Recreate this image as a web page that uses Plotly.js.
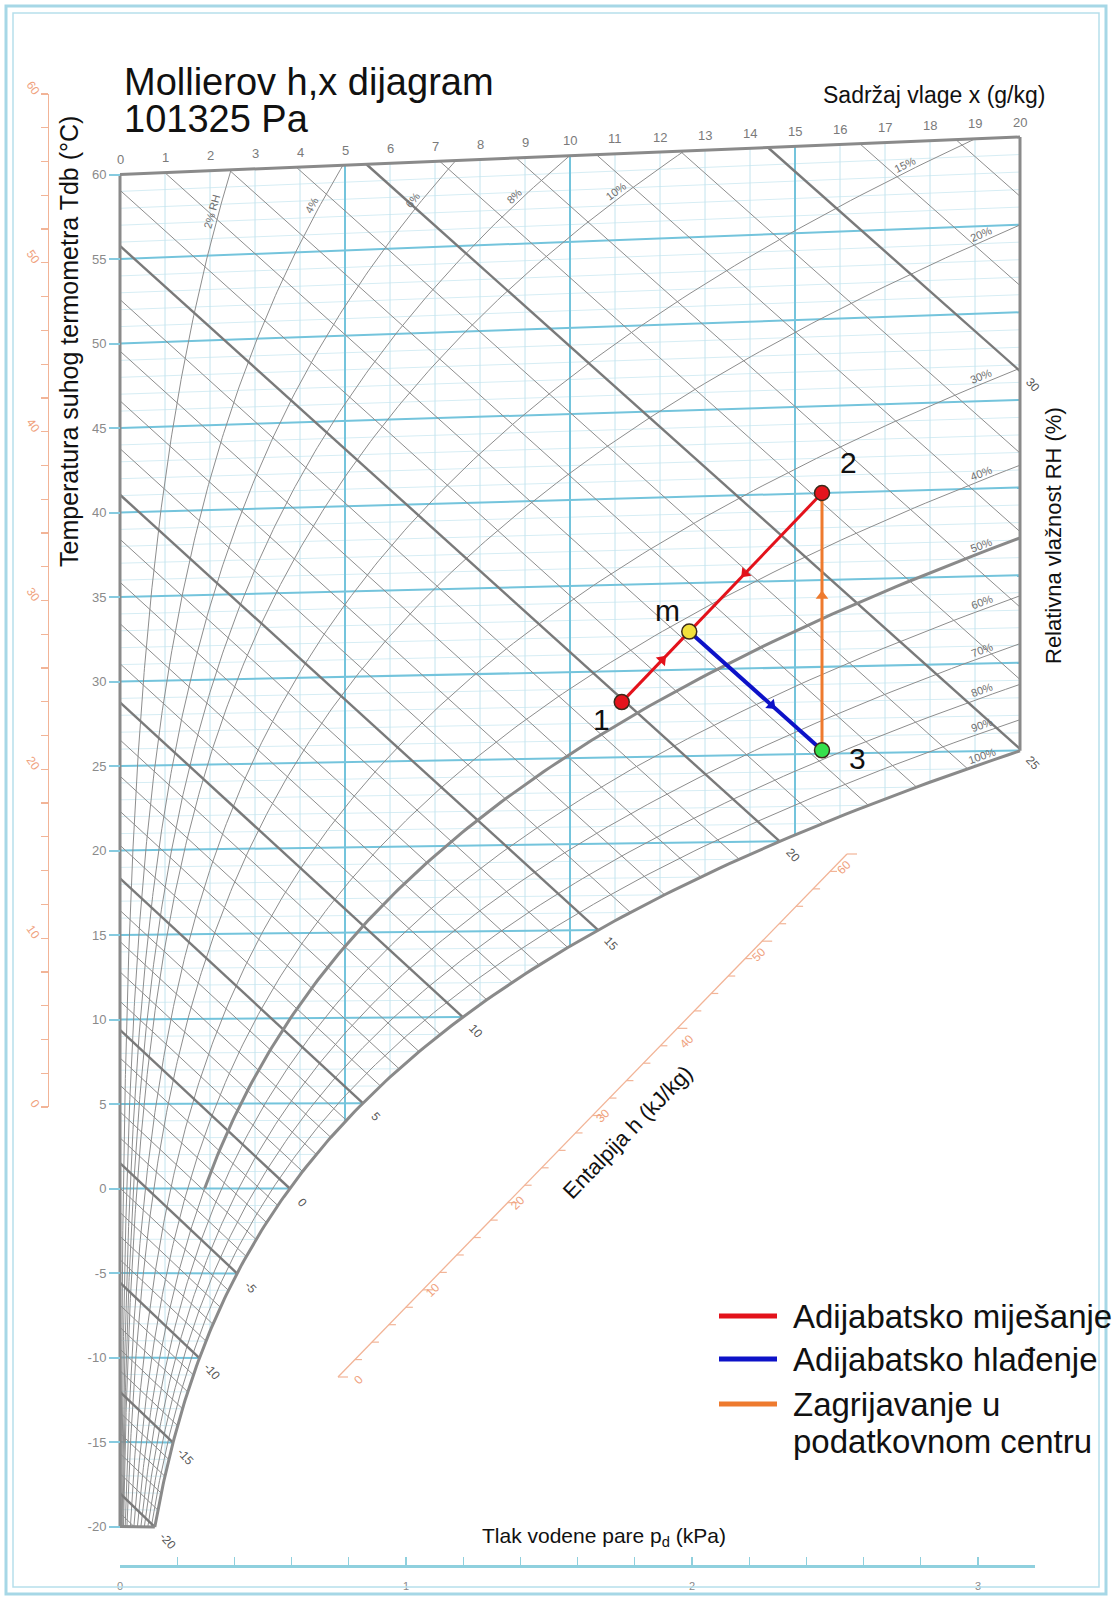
<!DOCTYPE html>
<html>
<head>
<meta charset="utf-8">
<script src="https://cdn.plot.ly/plotly-3.0.1.min.js"></script>
<style>
html,body{margin:0;padding:0;background:#ffffff;}
#chart{width:1112px;height:1600px;}
</style>
</head>
<body>
<div id="chart"></div>
<script>
// ===================== DATA =====================
const isothermValues = [-20,-19,-18,-17,-16,-15,-14,-13,-12,-11,-10,-9,-8,-7,-6,-5,-4,-3,-2,-1,0,1,2,3,4,5,6,7,8,9,10,11,12,13,14,15,16,17,18,19,20,21,22,23,24,25,26,27,28,29,30,31,32,33,34,35,36,37,38,39,40,41,42,43,44,45,46,47,48,49,50,51,52,53,54,55,56,57,58,59,60];
const tempTicks = [-20,-15,-10,-5,0,5,10,15,20,25,30,35,40,45,50,55,60];
const moistureValues = [0,1,2,3,4,5,6,7,8,9,10,11,12,13,14,15,16,17,18,19,20];
const rhLevels = [2,4,6,8,10,15,20,30,40,50,60,70,80,90,100];
const rhLabels = ['2% RH','4%','6%','8%','10%','15%','20%','30%','40%','50%','60%','70%','80%','90%','100%'];
const wetBulbValues = [-22,-21,-20,-19,-18,-17,-16,-15,-14,-13,-12,-11,-10,-9,-8,-7,-6,-5,-4,-3,-2,-1,0,1,2,3,4,5,6,7,8,9,10,11,12,13,14,15,16,17,18,19,20,21,22,23,24,25,26,27,28,29,30,31,32];
const wetBulbLabelled = [-20,-15,-10,-5,0,5,10,15,20,25,30];
const pressureTicks = [0,0.2,0.4,0.6,0.8,1,1.2,1.4,1.6,1.8,2,2.2,2.4,2.6,2.8,3,3.2];
const pressureLabels = ['0','','','','','1','','','','','2','','','','','3',''];
const enthalpyTicks = [0,2,4,6,8,10,12,14,16,18,20,22,24,26,28,30,32,34,36,38,40,42,44,46,48,50,52,54,56,58,60];
const enthalpyLabels = ['0','','','','','10','','','','','20','','','','','30','','','','','40','','','','','50','','','','','60'];

// process states: moisture content x (g/kg) and dry-bulb temperature (°C)
const stateNames = ['1','m','2','3'];
const stateX = [11.15, 12.65, 15.6, 15.6];
const stateT = [28.2, 32.2, 40.0, 25.2];
const stateColors = ['#e5141c','#f2e03c','#e5141c','#35e04c'];
const processNames = ['Adijabatsko miješanje','Adijabatsko hlađenje','Zagrijavanje u','podatkovnom centru'];
const processColors = ['#e3121b','#0d12c8','#ee7a2e'];

// ===================== psychrometrics =====================
const P_ATM = 101.325;
function pSat(t){ return 0.61094*Math.exp(17.625*t/(t+243.04)); }
function xAt(t, phi){ const p = phi*pSat(t); return 622*p/(P_ATM-p); }
const K = 0.00186/1.006;
function Ysk(x,t){ return t*(1+K*x); }           // skewed Mollier ordinate
function tDew(x){ const p = x*P_ATM/(622+x); const l = Math.log(p/0.61094); return 243.04*l/(17.625-l); }

// ===================== geometry / style =====================
const W=1112, H=1600;
const PX0=120, PXPER=45, PY60=174.5, PYPER=16.9;
const xr=[(0-PX0)/PXPER, (W-PX0)/PXPER];
const yr=[60-(H-PY60)/PYPER, 60+PY60/PYPER];
const pxX = px => (px-PX0)/PXPER;
const pyY = py => 60-(py-PY60)/PYPER;
const PX = px => px/W, PY = py => 1-py/H;
const RH_TOP_LABEL_T = 57.5, RH_TOP_LABEL_T_15 = 58.3, RH_RIGHT_LABEL_X = 19.2;

function joinSegs(list){ const X=[],Y=[]; list.forEach(s=>{ X.push(...s.x,null); Y.push(...s.y,null); }); return {x:X,y:Y}; }
function lineTrace(d,color,width){ return {type:'scatter',mode:'lines',x:d.x,y:d.y,line:{color:color,width:width},hoverinfo:'skip',showlegend:false,xaxis:'x',yaxis:'y'}; }

const X_SAT_BOTTOM = xAt(-20,1);

// isotherms
const isoThin=[], isoBold=[];
isothermValues.forEach(t=>{
  if(t===-20||t===60) return;
  const xe = Math.min(20, xAt(t,1));
  const s = {x:[0,xe], y:[Ysk(0,t),Ysk(xe,t)]};
  (t%5===0?isoBold:isoThin).push(s);
});
// constant moisture lines
const vThin=[], vBold=[];
moistureValues.forEach(x=>{
  if(x===0||x===20) return;
  const yb = x<X_SAT_BOTTOM ? Ysk(x,-20) : Ysk(x,tDew(x));
  const s = {x:[x,x], y:[yb, Ysk(x,60)]};
  (x%5===0?vBold:vThin).push(s);
});
// wet bulb lines
const wbThin=[], wbBold=[], wbEnds={};
wetBulbValues.forEach(tw=>{
  const xs = xAt(tw,1);
  const hs = 1.006*tw + xs*(2501+1.86*tw)/1000;
  const b = (0.004186*tw - 2.501)/1.006;
  const a = (hs - 0.004186*tw*xs)/1.006;
  let xR;
  if(tw < -20) xR = (-20 - a)/(b + 20*K);
  else xR = Math.min(xs,20);
  if(xR <= 0) return;
  let xL = 0;
  if(a > 60) xL = (a-60)/(60*K - b);
  if(xL >= xR) return;
  const s = {x:[xL,xR], y:[a+b*xL, a+b*xR]};
  wbEnds[tw] = {x:xR, y:a+b*xR};
  (tw%5===0?wbBold:wbThin).push(s);
});
// relative humidity curves
function rhCurve(phi, tmin, tmax){
  const X=[],Y=[];
  for(let t=tmin; t<=tmax+1e-9; t+=0.25){
    const x = xAt(t,phi);
    if(x>20){
      let lo=t-0.25, hi=t;
      for(let k=0;k<40;k++){ const m=(lo+hi)/2; if(xAt(m,phi)>20) hi=m; else lo=m; }
      X.push(20); Y.push(Ysk(20,lo)); break;
    }
    X.push(x); Y.push(Ysk(x,t));
  }
  return {x:X,y:Y};
}
const rhThin=[], rhBold=[];
rhLevels.forEach(r=>{
  const phi=r/100;
  if(r===100){ rhBold.push(rhCurve(phi,-20,60)); }
  else if(r===50){ rhThin.push(rhCurve(phi,-20,0)); rhBold.push(rhCurve(phi,0,60)); }
  else rhThin.push(rhCurve(phi,-20,60));
});
// frame
const frame = [
  {x:[0,0], y:[Ysk(0,-20),Ysk(0,60)]},
  {x:[0,20], y:[Ysk(0,60),Ysk(20,60)]},
  {x:[20,20], y:[Ysk(20,tDew(20)),Ysk(20,60)]},
  {x:[0,X_SAT_BOTTOM], y:[Ysk(0,-20),Ysk(X_SAT_BOTTOM,-20)]}
];

const stateY = stateX.map((x,i)=>Ysk(x,stateT[i]));

// arrow heads on the process lines (triangle markers oriented along the path)
const arrowDefs = [[0,1,0.6,processColors[0]],[2,1,0.58,processColors[0]],[1,3,0.62,processColors[1]],[3,2,0.6,processColors[2]]];
const arrX=[], arrY=[], arrAng=[], arrCol=[];
arrowDefs.forEach(d=>{
  const [i0,i1,f,c]=d;
  const x=stateX[i0]+(stateX[i1]-stateX[i0])*f, y=stateY[i0]+(stateY[i1]-stateY[i0])*f;
  const dx=(stateX[i1]-stateX[i0])*PXPER, dyScreen=-(stateY[i1]-stateY[i0])*PYPER;
  arrX.push(x); arrY.push(y); arrCol.push(c);
  arrAng.push(Math.atan2(dx,-dyScreen)*180/Math.PI);
});

// orange diagonal enthalpy scale (pixel placement)
const DS0={x:338,y:1377}, DS1={x:847,y:854};
function dsPt(v){ const f=v/60; return {x:DS0.x+(DS1.x-DS0.x)*f, y:DS0.y+(DS1.y-DS0.y)*f}; }
const dsTicks=[];
enthalpyTicks.forEach((v,i)=>{ const p=dsPt(v); const L = enthalpyLabels[i]!==''?10:7;
  dsTicks.push({x:[pxX(p.x),pxX(p.x+L)], y:[pyY(p.y),pyY(p.y)]}); });

const traces = [
  lineTrace(joinSegs(isoThin),'#d6edf4',1),
  lineTrace(joinSegs(vThin),'#c4e4ee',1),
  lineTrace(joinSegs(isoBold),'#74c4dc',2),
  lineTrace(joinSegs(vBold),'#74c4dc',2),
  lineTrace(joinSegs(wbThin),'#8d8d8d',1),
  lineTrace(joinSegs(rhThin),'#8d8d8d',1),
  lineTrace(joinSegs(wbBold),'#7a7a7a',2.4),
  lineTrace(joinSegs(rhBold),'#8a8a8a',3),
  lineTrace(joinSegs(frame),'#8a8a8a',3),
  lineTrace({x:[pxX(DS0.x),pxX(DS1.x)], y:[pyY(DS0.y),pyY(DS1.y)]},'#f2b497',1.3),
  lineTrace(joinSegs(dsTicks),'#f2b497',1.2),
  // process lines
  lineTrace({x:[stateX[0],stateX[1],stateX[2]], y:[stateY[0],stateY[1],stateY[2]]}, processColors[0], 3),
  lineTrace({x:[stateX[1],stateX[3]], y:[stateY[1],stateY[3]]}, processColors[1], 4),
  lineTrace({x:[stateX[3],stateX[2]], y:[stateY[3],stateY[2]]}, processColors[2], 3),
  {type:'scatter',mode:'markers',x:arrX,y:arrY,marker:{symbol:'triangle-up',size:11,angle:arrAng,color:arrCol,line:{width:0}},hoverinfo:'skip',showlegend:false,xaxis:'x',yaxis:'y'},
  {type:'scatter',mode:'markers',x:stateX,y:stateY,marker:{size:15,color:stateColors,line:{color:'#3a2a1a',width:1.5}},hoverinfo:'skip',showlegend:false,xaxis:'x',yaxis:'y'},
  // carriers for the extra axes
  {type:'scatter',mode:'markers',x:[0],y:[-100],marker:{opacity:0},hoverinfo:'skip',showlegend:false,xaxis:'x2',yaxis:'y'},
  {type:'scatter',mode:'markers',x:[-100],y:[0],marker:{opacity:0},hoverinfo:'skip',showlegend:false,xaxis:'x',yaxis:'y2'}
];

// ===================== annotations =====================
const annotations=[];
function ann(o){ annotations.push(Object.assign({showarrow:false,xref:'paper',yref:'paper'},o)); }
const FONT='Liberation Sans, Arial, Helvetica, sans-serif';

ann({x:PX(122),y:PY(82),xanchor:'left',yanchor:'middle',text:'Mollierov h,x dijagram',font:{size:38,color:'#111'}});
ann({x:PX(122),y:PY(119),xanchor:'left',yanchor:'middle',text:'101325 Pa',font:{size:38,color:'#111'}});
ann({x:PX(934),y:PY(95),xanchor:'center',yanchor:'middle',text:'Sadržaj vlage x (g/kg)',font:{size:23,color:'#111'}});
ann({x:PX(69),y:PY(342),xanchor:'center',yanchor:'middle',textangle:-90,text:'Temperatura suhog termometra Tdb (°C)',font:{size:25,color:'#111'}});
ann({x:PX(1053),y:PY(536),xanchor:'center',yanchor:'middle',textangle:-90,text:'Relativna vlažnost RH (%)',font:{size:22,color:'#111'}});
ann({x:PX(604),y:PY(1537),xanchor:'center',yanchor:'middle',text:'Tlak vodene pare p<sub>d</sub> (kPa)',font:{size:21,color:'#111'}});
ann({x:PX(627),y:PY(1132),xanchor:'center',yanchor:'middle',textangle:-46,text:'Entalpija h (kJ/kg)',font:{size:22,color:'#111'}});

// top moisture labels along the 60 °C edge
moistureValues.forEach(x=>{
  ann({xref:'x',yref:'y',x:x,y:Ysk(x,60),yshift:15,text:String(x),font:{size:13,color:'#7a7a7a'}});
});

// RH labels
function rhLabel(phi, t, text){
  const x1=xAt(t-0.3,phi), x2=xAt(t+0.3,phi);
  const dx=(x2-x1)*PXPER, dy=-(Ysk(x2,t+0.3)-Ysk(x1,t-0.3))*PYPER;
  const L=Math.hypot(dx,dy), ux=dx/L, uy=dy/L;
  const ang=Math.atan2(dy,dx)*180/Math.PI;
  const off=7;
  ann({xref:'x',yref:'y',x:xAt(t,phi),y:Ysk(xAt(t,phi),t),xshift:off*uy,yshift:off*ux,textangle:ang,text:text,font:{size:11,color:'#6f6f6f'}});
}
rhLevels.forEach((r,i)=>{
  const phi=r/100;
  if(xAt(60,phi)<=20){ rhLabel(phi, r===15?RH_TOP_LABEL_T_15:RH_TOP_LABEL_T, rhLabels[i]); }
  else {
    let lo=-20, hi=60;
    for(let k=0;k<50;k++){ const m=(lo+hi)/2; if(xAt(m,phi)>RH_RIGHT_LABEL_X) hi=m; else lo=m; }
    rhLabel(phi,lo,rhLabels[i]);
  }
});

// wet bulb labels
wetBulbLabelled.forEach(tw=>{
  const e=wbEnds[tw]; if(!e) return;
  ann({xref:'x',yref:'y',x:e.x,y:e.y,xshift:13,yshift:-14,textangle:48,text:String(tw),font:{size:12,color:'#555'}});
});

// diagonal enthalpy scale labels
enthalpyTicks.forEach((v,i)=>{
  if(enthalpyLabels[i]==='') return;
  const p=dsPt(v);
  ann({x:PX(p.x+10),y:PY(p.y+13),textangle:-45,text:enthalpyLabels[i],font:{size:12,color:'#f0a27e'}});
});

// state labels
const stateShift=[[-20,-17],[-22,21],[26,31],[35,-8]];
stateNames.forEach((n,i)=>{
  ann({xref:'x',yref:'y',x:stateX[i],y:stateY[i],xshift:stateShift[i][0],yshift:stateShift[i][1],text:n,font:{size:30,color:'#111'}});
});

// legend
const legendY=[1316,1359,1404];
const shapes=[];
processColors.forEach((c,i)=>{
  shapes.push({type:'line',xref:'paper',yref:'paper',x0:PX(719),x1:PX(777),y0:PY(legendY[i]),y1:PY(legendY[i]),line:{color:c,width:5}});
});
ann({x:PX(791),y:PY(legendY[0]),xanchor:'left',yanchor:'middle',text:processNames[0],font:{size:33,color:'#111'}});
ann({x:PX(791),y:PY(legendY[1]),xanchor:'left',yanchor:'middle',text:processNames[1],font:{size:33,color:'#111'}});
ann({x:PX(791),y:PY(legendY[2]),xanchor:'left',yanchor:'middle',text:processNames[2],font:{size:33,color:'#111'}});
ann({x:PX(791),y:PY(1441),xanchor:'left',yanchor:'middle',text:processNames[3],font:{size:33,color:'#111'}});

// page border
shapes.push({type:'rect',xref:'paper',yref:'paper',x0:PX(6),x1:PX(1106),y0:PY(6),y1:PY(1594),line:{color:'#a6d7e6',width:3}});
shapes.push({type:'rect',xref:'paper',yref:'paper',x0:PX(13),x1:PX(1099),y0:PY(13),y1:PY(1587),line:{color:'#b6dfeb',width:1.5}});

const layout = {
  width:W, height:H,
  margin:{l:0,r:0,t:0,b:0},
  paper_bgcolor:'#ffffff', plot_bgcolor:'rgba(0,0,0,0)',
  font:{family:FONT},
  showlegend:false,
  xaxis:{range:xr,domain:[0,1],visible:false,fixedrange:true},
  yaxis:{range:yr,domain:[0,1],anchor:'free',position:PX0/W,showline:false,showgrid:false,zeroline:false,
    tickmode:'array',tickvals:tempTicks,ticktext:tempTicks.map(String),ticks:'outside',ticklen:11,tickwidth:2,tickcolor:'#86cbe0',
    tickfont:{size:13,color:'#8a8a8a'},fixedrange:true},
  xaxis2:{domain:[PX(120),PX(120+3.2*286)],range:[0,3.2],anchor:'free',position:PY(1566),side:'bottom',
    showline:true,linecolor:'#8fd0de',linewidth:2.5,ticks:'inside',ticklen:8,tickwidth:1.2,tickcolor:'#8fd0de',
    tickmode:'array',tickvals:pressureTicks,ticktext:pressureLabels,tickfont:{size:11,color:'#8a8a8a'},ticklabelstandoff:9,
    showgrid:false,zeroline:false,fixedrange:true},
  yaxis2:{domain:[PY(1107),PY(94)],range:[0,60],anchor:'free',position:PX(48),side:'left',
    showline:true,linecolor:'#f2b497',linewidth:1.3,ticks:'outside',ticklen:7,tickwidth:1.2,tickcolor:'#f2b497',
    tickmode:'array',tickvals:enthalpyTicks,ticktext:enthalpyLabels,tickangle:55,tickfont:{size:12,color:'#f0a27e'},
    showgrid:false,zeroline:false,fixedrange:true},
  annotations:annotations,
  shapes:shapes
};

Plotly.newPlot('chart',traces,layout,{displayModeBar:false,staticPlot:true});
</script>
</body>
</html>
